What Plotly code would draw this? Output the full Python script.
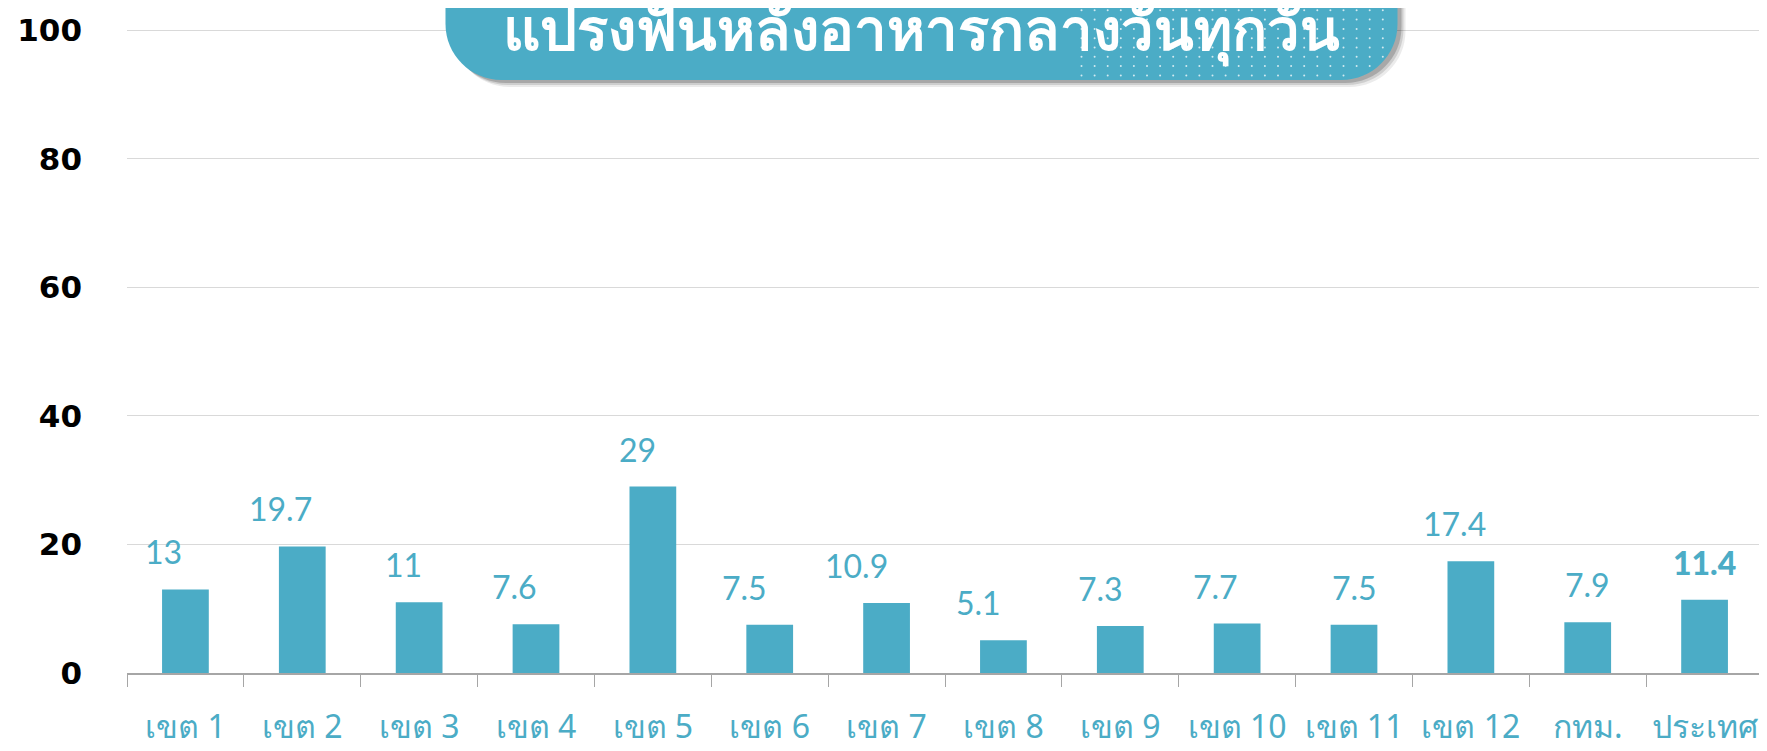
import plotly.graph_objects as go

# --- data ---
categories = ["เขต 1", "เขต 2", "เขต 3", "เขต 4", "เขต 5", "เขต 6", "เขต 7",
              "เขต 8", "เขต 9", "เขต 10", "เขต 11", "เขต 12", "กทม.", "ประเทศ"]
values = [13, 19.7, 11, 7.6, 29, 7.5, 10.9, 5.1, 7.3, 7.7, 7.5, 17.4, 7.9, 11.4]
value_labels = ["13", "19.7", "11", "7.6", "29", "7.5", "10.9", "5.1", "7.3",
                "7.7", "7.5", "17.4", "7.9", "11.4"]
y_ticks = [0, 20, 40, 60, 80, 100]
title_text = "แปรงฟันหลังอาหารกลางวันทุกวัน"

TEAL = "#4BACC6"
# page has an 8px body margin, so the figure is a bit smaller than the window
W, H = 1759, 743
ML, MR, MT, MB = 119, 4, 21, 78
PW, PH = W - ML - MR, H - MT - MB
Y_TOP = 100.2  # a hair above 100 so the top gridline is drawn

# manual nudges of the value labels (px), as in the source chart
label_dx = [-22, -22, -16, -22, -15, -25, -30, -25, -20, -22, 0, -16, 0, 0]

fig = go.Figure()
fig.add_trace(go.Bar(
    x=categories, y=values,
    marker=dict(color=TEAL, line=dict(width=0)),
    hoverinfo="x+y",
))

# value labels above the bars
for i, (cat, val, lab) in enumerate(zip(categories, values, value_labels)):
    last = i == len(categories) - 1
    fig.add_annotation(
        x=cat, y=val, text=lab, showarrow=False,
        yanchor="bottom", yshift=16, xshift=label_dx[i],
        font=dict(family="Lato, Noto Sans", size=32, color=TEAL,
                  weight=900 if last else 400),
    )

# title pill (pixel-sized, anchored at top of plot area)
cx = (921.5 - 127) / PW
left, right, bottom, top, r = -476, 476, -51, 80, 56
k = 0.552 * r
pill = (f"M {left + r},{bottom} L {right - r},{bottom} "
        f"C {right - r + k},{bottom} {right},{bottom + r - k} {right},{bottom + r} "
        f"L {right},{top} L {left},{top} L {left},{bottom + r} "
        f"C {left},{bottom + r - k} {left + r - k},{bottom} {left + r},{bottom} Z")
for dx, dy, op in [(8, -7, 0.08), (6, -5, 0.12), (4, -3, 0.18)]:
    fig.add_shape(
        type="path", xref="paper", yref="paper",
        xsizemode="pixel", ysizemode="pixel",
        xanchor=cx + dx / PW, yanchor=1 + dy / PH,
        path=pill, fillcolor=f"rgba(0,0,0,{op})", line=dict(width=0),
        layer="above",
    )
fig.add_shape(
    type="path", xref="paper", yref="paper",
    xsizemode="pixel", ysizemode="pixel",
    xanchor=cx, yanchor=1, path=pill,
    fillcolor=TEAL, line=dict(width=0), layer="above",
)
# halftone dots on the right part of the pill
for row in range(9):
    yy = 28 - row * 9.3
    for col in range(24):
        xx = 160 + col * 13.1
        if xx > right - 4:
            continue
        if yy < bottom + r:
            ddx = xx - (right - r)
            ddy = (bottom + r) - yy
            if ddx > 0 and ddx * ddx + ddy * ddy > (r - 3) ** 2:
                continue
        fig.add_shape(
            type="circle", xref="paper", yref="paper",
            xsizemode="pixel", ysizemode="pixel",
            xanchor=cx, yanchor=1,
            x0=xx - 1, x1=xx + 1, y0=yy - 1, y1=yy + 1,
            fillcolor="rgba(255,255,255,0.75)", line=dict(width=0),
            layer="above",
        )
fig.add_annotation(
    xref="paper", yref="paper", x=cx, y=1, yshift=2,
    text=title_text, showarrow=False, yanchor="middle",
    font=dict(family="Noto Sans, sans-serif", size=58, color="white", weight=700),
)

fig.update_xaxes(
    showline=True, linecolor="#A6A6A6", linewidth=1.5,
    ticks="outside", tickson="boundaries", ticklen=12, tickcolor="#A6A6A6",
    tickangle=0,
    tickfont=dict(family="Noto Sans, sans-serif", size=32, color=TEAL),
    ticklabelstandoff=25, showgrid=False, automargin=False,
)
fig.update_yaxes(
    range=[0, Y_TOP], tickvals=y_ticks, showgrid=True, gridcolor="#D9D9D9",
    gridwidth=1, zeroline=False, showline=False,
    tickfont=dict(family="DejaVu Sans, sans-serif", size=31, color="black",
                  weight=900),
    ticklabelstandoff=44, automargin=False,
)
fig.update_layout(
    width=W, height=H,
    margin=dict(l=ML, r=MR, t=MT, b=MB),
    plot_bgcolor="white", paper_bgcolor="white",
    bargap=0.6, showlegend=False,
)

fig.write_html("out.html")
